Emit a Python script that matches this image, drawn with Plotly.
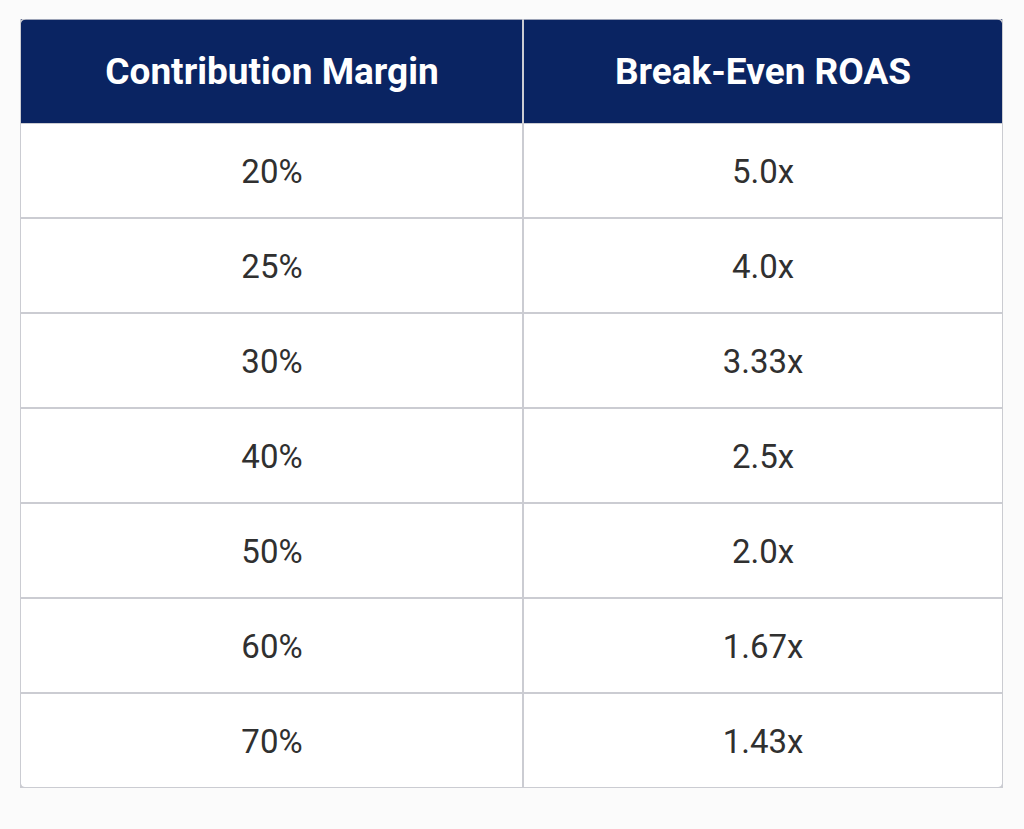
import plotly.graph_objects as go

# values
headers = ["Contribution Margin", "Break-Even ROAS"]
margins = ["20%", "25%", "30%", "40%", "50%", "60%", "70%"]
roas = ["5.0x", "4.0x", "3.33x", "2.5x", "2.0x", "1.67x", "1.43x"]

W, H = 1024, 829
left, right, top, bottom = 20, 1003, 19, 788
col_w = [503, 480]
head_h, row_h = 104, 95
grid = "#cbccd2"

# cell edges in pixel-like units (axis spans the table 1:1)
x_edges = [0, col_w[0], col_w[0] + col_w[1]]
y_head = [0, head_h]
y_body = [head_h + i * row_h for i in range(len(margins) + 1)]

fig = go.Figure()

fig.add_trace(go.Heatmap(
    x=x_edges, y=y_head,
    z=[[0, 0]],
    text=[["<b>%s</b>" % h for h in headers]],
    texttemplate="%{text}",
    textfont=dict(family="Roboto", size=37, color="white"),
    colorscale=[[0, "#0a2462"], [1, "#0a2462"]],
    showscale=False, hoverinfo="skip",
    xgap=2, ygap=0,
))

fig.add_trace(go.Heatmap(
    x=x_edges, y=y_body,
    z=[[0, 0] for _ in margins],
    text=[[m, r] for m, r in zip(margins, roas)],
    texttemplate="%{text}",
    textfont=dict(family="Roboto", size=33, color="#303030"),
    colorscale=[[0, "white"], [1, "white"]],
    showscale=False, hoverinfo="skip",
    xgap=2, ygap=2,
))

# rounded outer frame
w, h, r = x_edges[-1], y_body[-1], 6
frame = (f"M {r},0 L {w - r},0 Q {w},0 {w},{r} L {w},{h - r} Q {w},{h} {w - r},{h} "
         f"L {r},{h} Q 0,{h} 0,{h - r} L 0,{r} Q 0,0 {r},0 Z")
fig.add_shape(type="path", path=frame, xref="x", yref="y",
              line=dict(color=grid, width=1.6), layer="above")

fig.update_xaxes(range=[0, w], domain=[left / W, right / W], visible=False, fixedrange=True)
fig.update_yaxes(range=[h, 0], domain=[1 - bottom / H, 1 - top / H], visible=False, fixedrange=True)

fig.update_layout(
    width=W, height=H,
    margin=dict(l=0, r=0, t=0, b=0),
    paper_bgcolor="#fbfbfb",
    plot_bgcolor=grid,
)

fig.write_html("out.html", config={"displayModeBar": False},
               post_script="document.body.style.margin='0';document.body.style.background='#fbfbfb';")
